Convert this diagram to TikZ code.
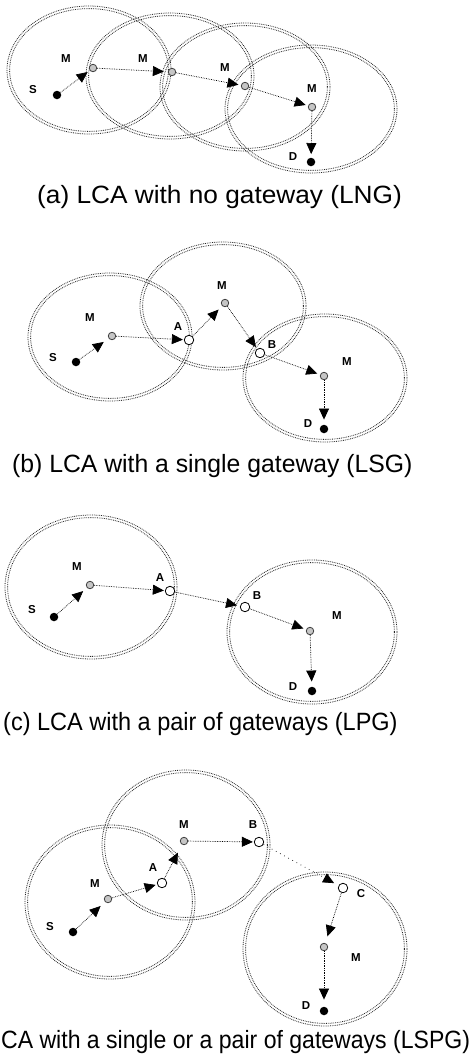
\documentclass[tikz,border=0pt]{standalone}
\usepackage{fontspec}
\usepackage{graphicx}
\setmainfont{Liberation Sans}
\usetikzlibrary{arrows.meta}
\tikzset{
  rangeline/.style={black!85, densely dotted, line width=0.8pt},
  mnode/.style={circle, draw=gray!50!black, fill=gray!45, line width=0.8pt, minimum size=7.5pt, inner sep=0pt},
  gwnode/.style={circle, draw=black, fill=white, line width=0.8pt, minimum size=9.5pt, inner sep=0pt},
  endnode/.style={circle, fill=black, minimum size=8.5pt, inner sep=0pt},
  lbl/.style={font=\bfseries\fontsize{11.5}{13}\selectfont, inner sep=0pt},
  link/.style={densely dotted, line width=0.7pt, -{Triangle[length=11pt,width=10pt]}, shorten >=2.5pt},
  captext/.style={font=\fontsize{25}{30}\selectfont, inner sep=0pt}
}
\newcommand{\rangering}[4]{%
  \draw[rangeline] (#1,#2) ellipse [x radius=#3pt, y radius=#4pt];
  \draw[rangeline] (#1,#2) ellipse [x radius=#3pt-2.6pt, y radius=#4pt-2.6pt];}
\begin{document}
\begin{tikzpicture}[x=1pt,y=-1pt]
\useasboundingbox (0,0) rectangle (472,1061);
\fill[white] (0,0) rectangle (472,1061);
% ---------------- (a) ----------------
\rangering{89}{70}{82}{64}
\rangering{170}{76}{84}{63}
\rangering{245}{87}{85}{64}
\rangering{311}{109}{86}{64}
\node[endnode] (aS) at (57,95) {};
\node[mnode] (aM1) at (93,68) {};
\node[mnode] (aM2) at (172,72) {};
\node[mnode] (aM3) at (245,86) {};
\node[mnode] (aM4) at (312,107) {};
\node[endnode] (aD) at (311,162) {};
\node[lbl] (aSl) at (33,90) {S};
\node[lbl] (aM1l) at (66,59) {M};
\node[lbl] (aM2l) at (143,59) {M};
\node[lbl] (aM3l) at (225,68) {M};
\node[lbl] (aM4l) at (312,89) {M};
\node[lbl] (aDl) at (293,157) {D};
\draw[link] (aS) -- (aM1);
\draw[link, shorten >=4pt] (aM1) -- (aM2);
\draw[link] (aM2) -- (aM3);
\draw[link] (aM3) -- (aM4);
\draw[link, shorten >=3.5pt] (aM4) -- (aD);
\node[captext, anchor=base west] (capa) at (37,203) {\scalebox{1.05}[1]{(a) LCA with no gateway (LNG)}};
% ---------------- (b) ----------------
\rangering{110}{337}{82}{64}
\rangering{223}{306}{83}{64}
\rangering{325}{378}{82}{64}
\node[endnode] (bS) at (76,362) {};
\node[mnode] (bM1) at (112,336) {};
\node[gwnode] (bA) at (189,340) {};
\node[mnode] (bM2) at (225,303) {};
\node[gwnode] (bB) at (260,353) {};
\node[mnode] (bM3) at (324,376) {};
\node[endnode] (bD) at (324,429) {};
\node[lbl] (bSl) at (53,358) {S};
\node[lbl] (bM1l) at (90,318) {M};
\node[lbl] (bAl) at (178,327) {A};
\node[lbl] (bM2l) at (222,286) {M};
\node[lbl] (bBl) at (272,345) {B};
\node[lbl] (bM3l) at (347,362) {M};
\node[lbl] (bDl) at (308,424) {D};
\draw[link, shorten >=6pt] (bS) -- (bM1);
\draw[link, shorten >=1pt] (bM1) -- (bA);
\draw[link, shorten >=5pt] (bA) -- (bM2);
\draw[link, shorten >=2pt] (bM2) -- (bB);
\draw[link, shorten >=3pt] (bB) -- (bM3);
\draw[link, shorten >=5pt] (bM3) -- (bD);
\node[captext, anchor=base west] (capb) at (12,472) {\scalebox{0.99}[1]{(b) LCA with a single gateway (LSG)}};
% ---------------- (c) ----------------
\rangering{91}{587}{86}{72}
\rangering{312}{632}{85}{72}
\node[endnode] (cS) at (54,617) {};
\node[mnode] (cM1) at (90,585) {};
\node[gwnode] (cA) at (170,591) {};
\node[gwnode] (cB) at (245,607) {};
\node[mnode] (cM2) at (310,631) {};
\node[endnode] (cD) at (312,691) {};
\node[lbl] (cSl) at (32,610) {S};
\node[lbl] (cM1l) at (77,567) {M};
\node[lbl] (cAl) at (160,578) {A};
\node[lbl] (cBl) at (257,596) {B};
\node[lbl] (cM2l) at (337,616) {M};
\node[lbl] (cDl) at (293,687) {D};
\draw[link, shorten >=5pt] (cS) -- (cM1);
\draw[link, shorten >=1pt] (cM1) -- (cA);
\draw[link, shorten >=3pt] (cA) -- (cB);
\draw[link, shorten >=3pt] (cB) -- (cM2);
\draw[link, shorten >=5pt] (cM2) -- (cD);
\node[captext, anchor=base west] (capc) at (3,730) {\scalebox{0.94}[1]{(c) LCA with a pair of gateways (LPG)}};
% ---------------- (d) ----------------
\rangering{110}{902}{85}{77}
\rangering{186}{845}{84}{75}
\rangering{325}{949}{82}{77}
\node[endnode] (dS) at (73,932) {};
\node[mnode] (dM1) at (108,899) {};
\node[gwnode] (dA) at (162,883) {};
\node[mnode] (dM2) at (184,841) {};
\node[gwnode] (dB) at (259,842) {};
\node[gwnode] (dC) at (343,888) {};
\node[mnode] (dM3) at (324,947) {};
\node[endnode] (dD) at (324,1011) {};
\node[lbl] (dSl) at (50,927) {S};
\node[lbl] (dM1l) at (95,884) {M};
\node[lbl] (dAl) at (153,868) {A};
\node[lbl] (dM2l) at (184,825) {M};
\node[lbl] (dBl) at (253,825) {B};
\node[lbl] (dCl) at (361,894) {C};
\node[lbl] (dM3l) at (356,958) {M};
\node[lbl] (dDl) at (306,1006) {D};
\draw[link, shorten >=6pt] (dS) -- (dM1);
\draw[link, shorten >=1.5pt] (dM1) -- (dA);
\draw[link, shorten >=9pt] (dA) -- (dM2);
\draw[link, shorten >=1pt] (dM2) -- (dB);
\draw[link, loosely dotted, shorten >=5pt] (dB) -- (dC);
\draw[link, shorten >=7pt] (dC) -- (dM3);
\draw[link, shorten >=7pt] (dM3) -- (dD);
\node[captext, anchor=base west] (capd) at (1,1048) {\scalebox{0.922}[1]{CA with a single or a pair of gateways (LSPG)}};
\end{tikzpicture}
\end{document}
